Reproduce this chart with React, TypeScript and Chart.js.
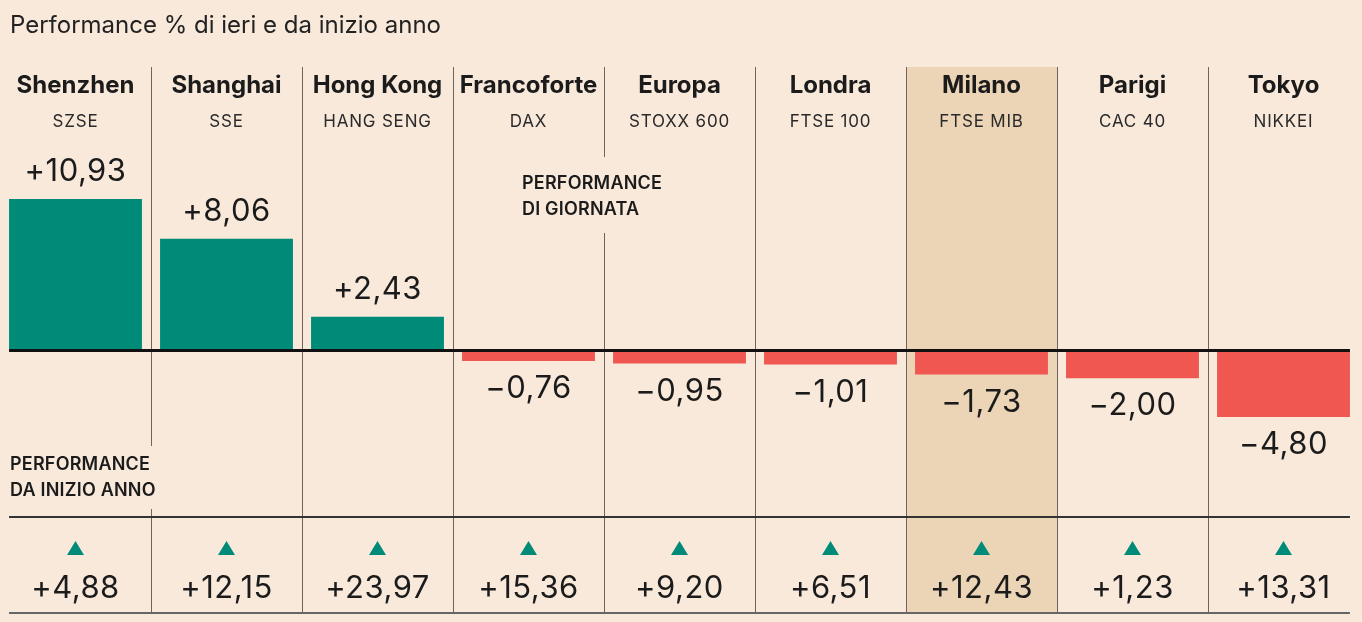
import React, { useEffect, useRef } from "react";
import { Chart, registerables } from "chart.js";

Chart.register(...registerables);

const cities = ["Shenzhen", "Shanghai", "Hong Kong", "Francoforte", "Europa", "Londra", "Milano", "Parigi", "Tokyo"];
const indexNames = ["SZSE", "SSE", "HANG SENG", "DAX", "STOXX 600", "FTSE 100", "FTSE MIB", "CAC 40", "NIKKEI"];
const dailyPerf = [10.93, 8.06, 2.43, -0.76, -0.95, -1.01, -1.73, -2.0, -4.8];
const ytdPerf = [4.88, 12.15, 23.97, 15.36, 9.2, 6.51, 12.43, 1.23, 13.31];
const highlightCity = "Milano";
const titleText = "Performance % di ieri e da inizio anno";
const dailyLabel = ["PERFORMANCE", "DI GIORNATA"];
const ytdLabel = ["PERFORMANCE", "DA INIZIO ANNO"];

const BG = "#f9e9db";
const HIGHLIGHT = "#ecd4b7";
const TEAL = "#008b79";
const RED = "#ef5750";
const INK = "#1b1b1b";
const FONT = "Inter, 'Noto Sans', sans-serif";

const fmt = (v: number) => (v >= 0 ? "+" : "\u2212") + Math.abs(v).toFixed(2).replace(".", ",");

const setSpacing = (ctx: any, px: number) => {
  if ("letterSpacing" in ctx) ctx.letterSpacing = `${px}px`;
};

const decorPlugin = {
  id: "decor",
  beforeDraw(chart: any) {
    const { ctx, width, height, scales } = chart;
    const x = scales.x;
    const n = cities.length;
    const colW = (x.right - x.left) / n;
    ctx.save();
    ctx.fillStyle = BG;
    ctx.fillRect(0, 0, width, height);
    const hi = cities.indexOf(highlightCity);
    if (hi >= 0) {
      const cx = x.getPixelForValue(hi);
      ctx.fillStyle = HIGHLIGHT;
      ctx.fillRect(cx - colW / 2, 67, colW, 613 - 67);
    }
    // title
    ctx.fillStyle = "#222";
    ctx.font = `400 24px ${FONT}`;
    setSpacing(ctx, 0);
    ctx.textBaseline = "middle";
    ctx.textAlign = "left";
    ctx.fillText(titleText, 10, 26);
    // vertical dividers
    ctx.strokeStyle = "#6e645b";
    ctx.lineWidth = 1;
    for (let i = 1; i < n; i++) {
      const bx = Math.round(x.getPixelForValue(i) - colW / 2) + 0.5;
      const segs: [number, number][] =
        i === 1 ? [[67, 446], [509, 613]] : i === 4 ? [[67, 157], [233, 613]] : [[67, 613]];
      for (const [a, b] of segs) {
        ctx.beginPath();
        ctx.moveTo(bx, a);
        ctx.lineTo(bx, b);
        ctx.stroke();
      }
    }
    // headers
    ctx.textAlign = "center";
    for (let i = 0; i < n; i++) {
      const cx = x.getPixelForValue(i);
      ctx.fillStyle = INK;
      ctx.font = `700 24px ${FONT}`;
      setSpacing(ctx, 0);
      ctx.fillText(cities[i], cx, 86);
      ctx.fillStyle = "#2a2a2a";
      ctx.font = `400 17px ${FONT}`;
      setSpacing(ctx, 0.8);
      ctx.fillText(indexNames[i], cx, 122);
    }
    // section labels
    ctx.textAlign = "left";
    ctx.fillStyle = INK;
    ctx.font = `600 18px ${FONT}`;
    setSpacing(ctx, 0.2);
    ctx.fillText(dailyLabel[0], 522, 184);
    ctx.fillText(dailyLabel[1], 522, 210);
    ctx.fillText(ytdLabel[0], 10, 465);
    ctx.fillText(ytdLabel[1], 10, 491);
    setSpacing(ctx, 0);
    ctx.restore();
  },
  afterDatasetsDraw(chart: any) {
    const { ctx, scales } = chart;
    const x = scales.x;
    const y = scales.y;
    const meta = chart.getDatasetMeta(0);
    const first = meta.data[0] as any;
    const last = meta.data[meta.data.length - 1] as any;
    const left = first.x - first.width / 2;
    const right = last.x + last.width / 2;
    const y0 = y.getPixelForValue(0);
    ctx.save();
    // zero line
    ctx.strokeStyle = "#111";
    ctx.lineWidth = 3;
    ctx.beginPath();
    ctx.moveTo(left, y0);
    ctx.lineTo(right, y0);
    ctx.stroke();
    // table rules
    ctx.strokeStyle = "#333";
    ctx.lineWidth = 2;
    ctx.beginPath();
    ctx.moveTo(left, 517);
    ctx.lineTo(right, 517);
    ctx.stroke();
    ctx.strokeStyle = "#666";
    ctx.beginPath();
    ctx.moveTo(left, 613);
    ctx.lineTo(right, 613);
    ctx.stroke();
    // value labels
    ctx.fillStyle = INK;
    ctx.font = `400 31px ${FONT}`;
    setSpacing(ctx, 0.5);
    ctx.textAlign = "center";
    ctx.textBaseline = "middle";
    meta.data.forEach((bar: any, i: number) => {
      const v = dailyPerf[i];
      const ly = v >= 0 ? y.getPixelForValue(v) - 27 : y.getPixelForValue(v) + 28;
      ctx.fillText(fmt(v), bar.x, ly);
    });
    // ytd triangles & values
    for (let i = 0; i < ytdPerf.length; i++) {
      const cx = x.getPixelForValue(i);
      const v = ytdPerf[i];
      ctx.fillStyle = v >= 0 ? TEAL : RED;
      ctx.beginPath();
      if (v >= 0) {
        ctx.moveTo(cx - 8.5, 555);
        ctx.lineTo(cx + 8.5, 555);
        ctx.lineTo(cx, 541);
      } else {
        ctx.moveTo(cx - 8.5, 541);
        ctx.lineTo(cx + 8.5, 541);
        ctx.lineTo(cx, 555);
      }
      ctx.closePath();
      ctx.fill();
      ctx.fillStyle = INK;
      ctx.fillText(fmt(v), cx, 589);
    }
    setSpacing(ctx, 0);
    ctx.restore();
  },
};

export default function App() {
  const ref = useRef<HTMLCanvasElement | null>(null);
  useEffect(() => {
    if (!ref.current) return;
    const chart = new Chart(ref.current, {
      type: "bar",
      data: {
        labels: cities,
        datasets: [
          {
            data: dailyPerf,
            backgroundColor: dailyPerf.map((v) => (v >= 0 ? TEAL : RED)),
            borderWidth: 0,
            barPercentage: 0.88,
            categoryPercentage: 1,
          },
        ],
      },
      options: {
        responsive: false,
        animation: false,
        devicePixelRatio: 1,
        layout: { padding: { left: 0, right: 3, top: 130, bottom: 112 } },
        plugins: { legend: { display: false }, tooltip: { enabled: false }, title: { display: false } },
        scales: {
          x: { display: false, offset: true, grid: { display: false } },
          y: { display: false, min: -11.52, max: 15.92, grid: { display: false } },
        },
      },
      plugins: [decorPlugin],
    });
    return () => chart.destroy();
  }, []);
  return (
    <div style={{ position: "fixed", left: 0, top: 0, width: 1362, height: 622 }}>
      <canvas ref={ref} width={1362} height={622} style={{ display: "block" }} />
    </div>
  );
}
